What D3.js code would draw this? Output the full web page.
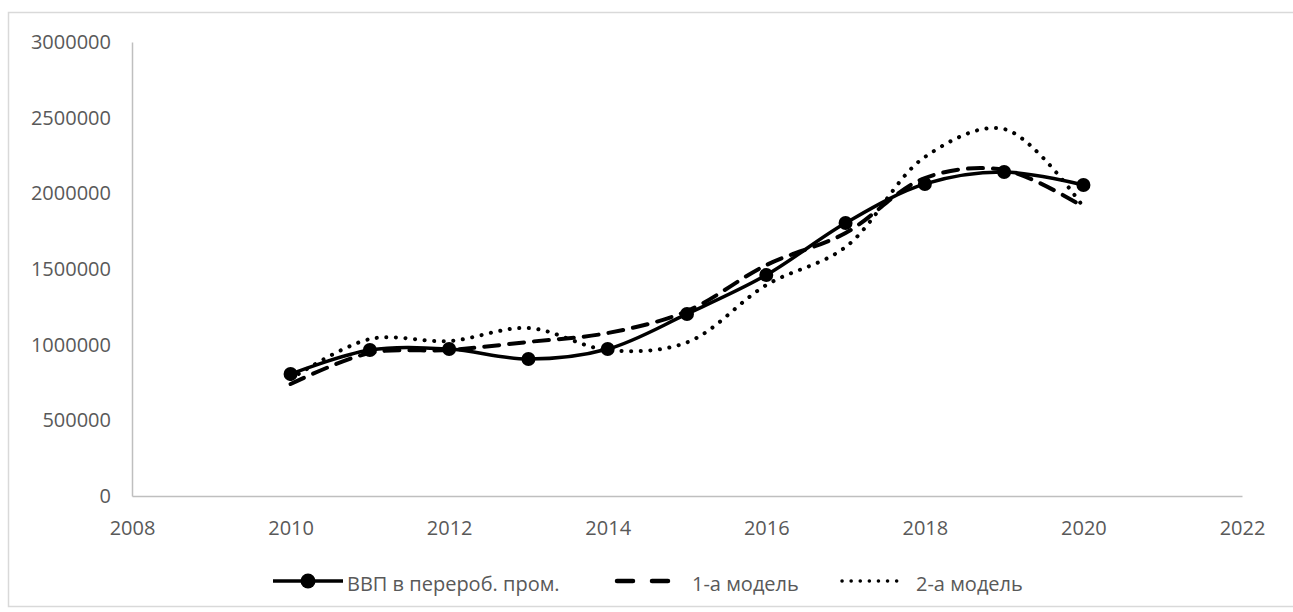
<!DOCTYPE html>
<html><head><meta charset="utf-8">
<script src="https://cdn.jsdelivr.net/npm/d3@7"></script>
<style>body{margin:0;background:#fff;}svg{display:block;font-family:"Open Sans","Liberation Sans",Arial,sans-serif;}</style>
</head><body><svg id="c" width="1293" height="612"></svg>
<script>
const years = [2010,2011,2012,2013,2014,2015,2016,2017,2018,2019,2020];
const gdp    = [806000,965000,971000,905000,971000,1203000,1460000,1804000,2062000,2141000,2055000];
const model1 = [740000,945000,965000,1018000,1077000,1222000,1526000,1738000,2101000,2154000,1910000];
const model2 = [773000,1037000,1024000,1110000,965000,1015000,1394000,1645000,2240000,2425000,1910000];
const xTicks = [2008,2010,2012,2014,2016,2018,2020,2022];
const yTicks = [0,500000,1000000,1500000,2000000,2500000,3000000];
const seriesNames = ["ВВП в перероб. пром.","1-а модель","2-а модель"];

const svg = d3.select("#c");
svg.append("rect").attr("x",8.5).attr("y",12.5).attr("width",1300).attr("height",594)
  .attr("fill","none").attr("stroke","#d9d9d9").attr("stroke-width",1.5);

const x = d3.scaleLinear().domain([2008,2022]).range([132,1242]);
const y = d3.scaleLinear().domain([0,3000000]).range([496,42]);

const gx = svg.append("g").attr("transform","translate(0,496)")
  .call(d3.axisBottom(x).tickValues(xTicks).tickFormat(d3.format("d")).tickSize(0).tickPadding(25));
gx.select(".domain").attr("stroke","#bfbfbf").attr("stroke-width",1.5);
gx.selectAll("text").attr("fill","#595959").style("font-size","20px").style("font-family","'Open Sans'");

const gy = svg.append("g").attr("transform","translate(132,0)")
  .call(d3.axisLeft(y).tickValues(yTicks).tickFormat(d3.format("d")).tickSize(0).tickPadding(21));
gy.select(".domain").attr("stroke","#bfbfbf").attr("stroke-width",1.5);
gy.selectAll("text").attr("fill","#595959").style("font-size","20px").style("font-family","'Open Sans'");

const line = d3.line().x((d,i)=>x(years[i])).y(d=>y(d)).curve(d3.curveCatmullRom.alpha(0.5));

svg.append("path").datum(model2).attr("d",line).attr("fill","none")
  .attr("stroke","#000").attr("stroke-width",4).attr("stroke-dasharray","0.1 9.5").attr("stroke-linecap","round");
svg.append("path").datum(model1).attr("d",line).attr("fill","none")
  .attr("stroke","#000").attr("stroke-width",4).attr("stroke-dasharray","15 10").attr("stroke-linecap","round");
svg.append("path").datum(gdp).attr("d",line).attr("fill","none")
  .attr("stroke","#000").attr("stroke-width",3.5);
svg.selectAll("circle.m").data(gdp).enter().append("circle").attr("class","m")
  .attr("cx",(d,i)=>x(years[i])).attr("cy",d=>y(d)).attr("r",7).attr("fill","#000");

// legend
const ly = 581;
const lg = svg.append("g");
lg.append("line").attr("x1",273).attr("x2",343).attr("y1",ly).attr("y2",ly).attr("stroke","#000").attr("stroke-width",3.5);
lg.append("circle").attr("cx",308).attr("cy",ly).attr("r",7.5).attr("fill","#000");
lg.append("text").attr("x",347).attr("y",ly+10).text(seriesNames[0]);
lg.append("line").attr("x1",617).attr("x2",670).attr("y1",ly).attr("y2",ly).attr("stroke","#000").attr("stroke-width",4.5).attr("stroke-dasharray","16 19").attr("stroke-linecap","round");
lg.append("text").attr("x",692).attr("y",ly+10).text(seriesNames[1]);
lg.append("line").attr("x1",842).attr("x2",898).attr("y1",ly).attr("y2",ly).attr("stroke","#000").attr("stroke-width",3.5).attr("stroke-dasharray","0.1 9").attr("stroke-linecap","round");
lg.append("text").attr("x",916).attr("y",ly+10).text(seriesNames[2]);
lg.selectAll("text").attr("fill","#595959").style("font-size","20px").style("font-family","'Open Sans'");
</script></body></html>
